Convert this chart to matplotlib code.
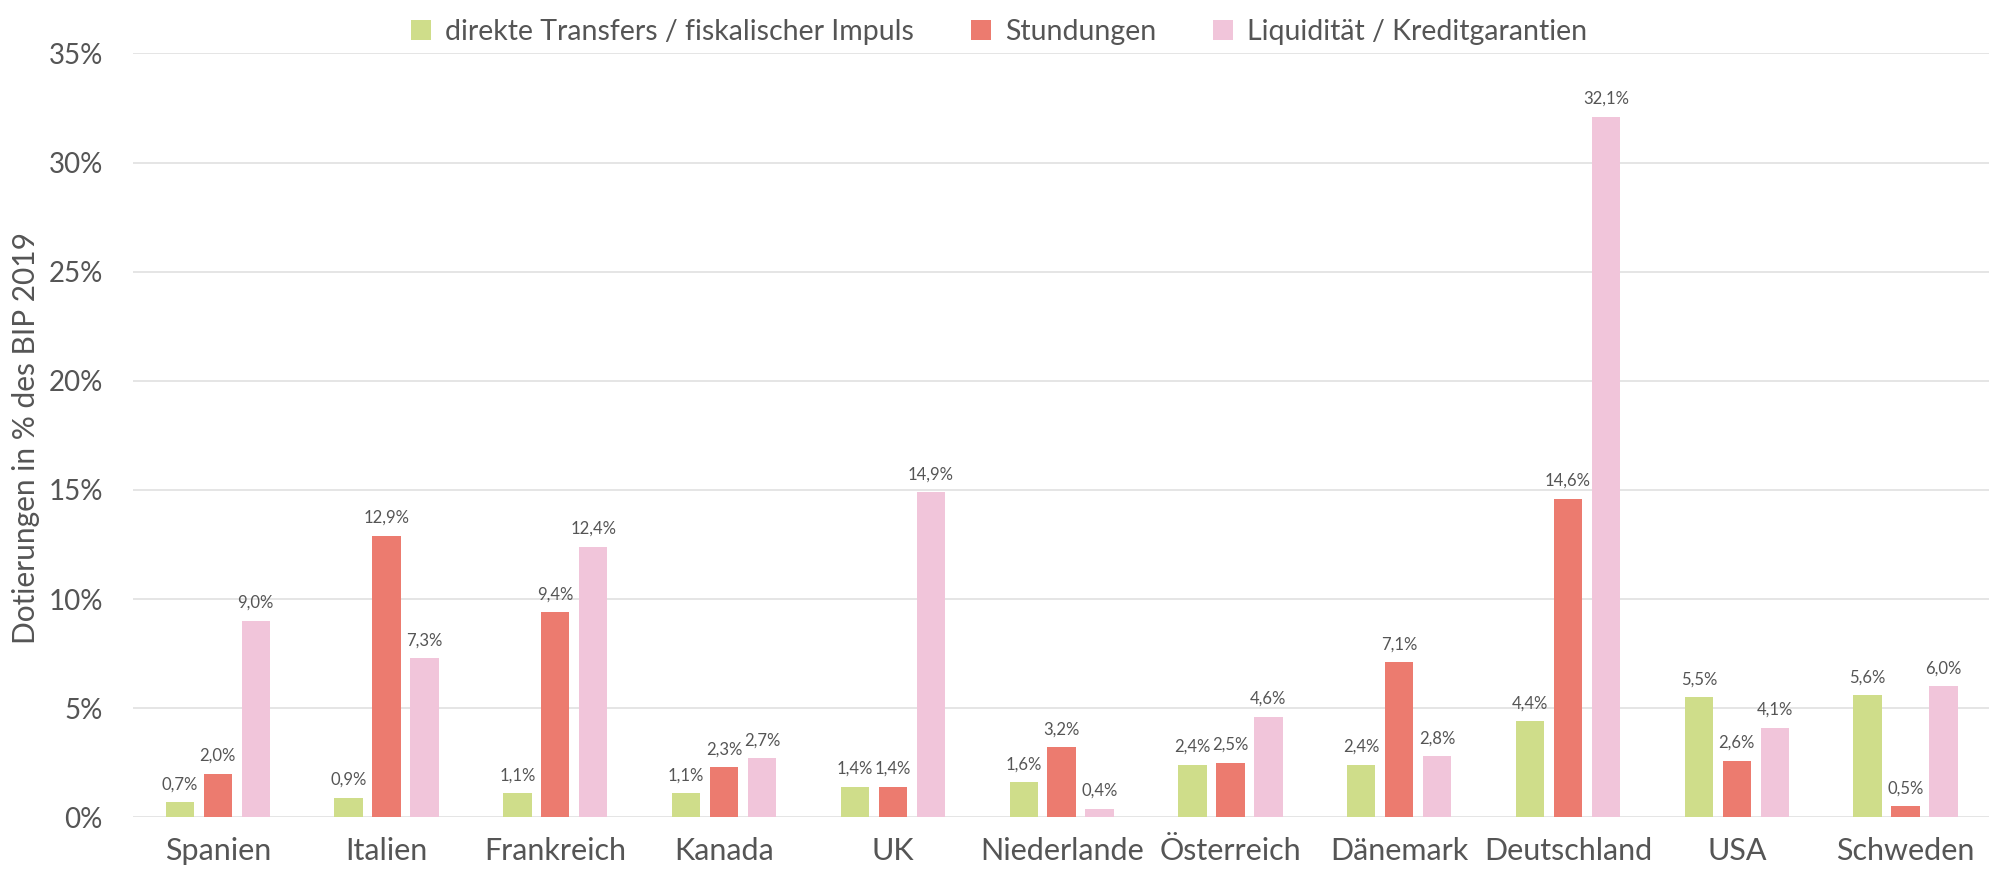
import numpy as np
import matplotlib
matplotlib.use("Agg")
import matplotlib.pyplot as plt
from matplotlib.ticker import FuncFormatter

laender = ["Spanien", "Italien", "Frankreich", "Kanada", "UK", "Niederlande",
           "Österreich", "Dänemark", "Deutschland", "USA", "Schweden"]
transfers = [0.7, 0.9, 1.1, 1.1, 1.4, 1.6, 2.4, 2.4, 4.4, 5.5, 5.6]
stundungen = [2.0, 12.9, 9.4, 2.3, 1.4, 3.2, 2.5, 7.1, 14.6, 2.6, 0.5]
liquiditaet = [9.0, 7.3, 12.4, 2.7, 14.9, 0.4, 4.6, 2.8, 32.1, 4.1, 6.0]
serien = ["direkte Transfers / fiskalischer Impuls", "Stundungen", "Liquidität / Kreditgarantien"]
farben = ["#cfdd8a", "#ec7b6f", "#f1c5da"]

textfarbe = "#555555"
plt.rcParams["font.family"] = ["Lato", "DejaVu Sans"]

fig = plt.figure(figsize=(19.9, 8.76), dpi=100)
ax = fig.add_axes([0.067, 0.067, 0.933, 0.872])

x = np.arange(len(laender))
breite = 0.168
abstand = 0.225

for i, (werte, name, farbe) in enumerate(zip([transfers, stundungen, liquiditaet], serien, farben)):
    pos = x + (i - 1) * abstand
    ax.bar(pos, werte, width=breite, color=farbe, label=name, zorder=3)
    for px, v in zip(pos, werte):
        txt = f"{v:.1f}".replace(".", ",") + "%"
        ax.text(px, v + 0.45, txt, ha="center", va="bottom", fontsize=12,
                color=textfarbe, zorder=4)

ax.set_xlim(-0.5, len(laender) - 0.5)
ax.set_ylim(0, 35)
ax.set_yticks(np.arange(0, 36, 5))
ax.yaxis.set_major_formatter(FuncFormatter(lambda v, p: f"{v:.0f}%"))
ax.set_xticks(x)
ax.set_xticklabels(laender)
ax.grid(axis="y", color="#e3e3e3", linewidth=1.3, zorder=0)
ax.tick_params(axis="y", length=0, pad=22, labelsize=20, labelcolor=textfarbe)
ax.tick_params(axis="x", length=0, pad=14, labelsize=22, labelcolor=textfarbe)
for s in ax.spines.values():
    s.set_visible(False)

fig.text(0.013, 0.5, "Dotierungen in % des BIP 2019", rotation=90, ha="center", va="center",
         fontsize=21.5, color=textfarbe)

leg = fig.legend(loc="upper center", bbox_to_anchor=(0.502, 1.008), ncol=3, frameon=False,
                 handlelength=0.7, handleheight=0.7, handletextpad=0.5, columnspacing=2.0,
                 prop={"size": 20.5})
for t in leg.get_texts():
    t.set_color(textfarbe)

fig.savefig("out.png", dpi=100, facecolor="white")
